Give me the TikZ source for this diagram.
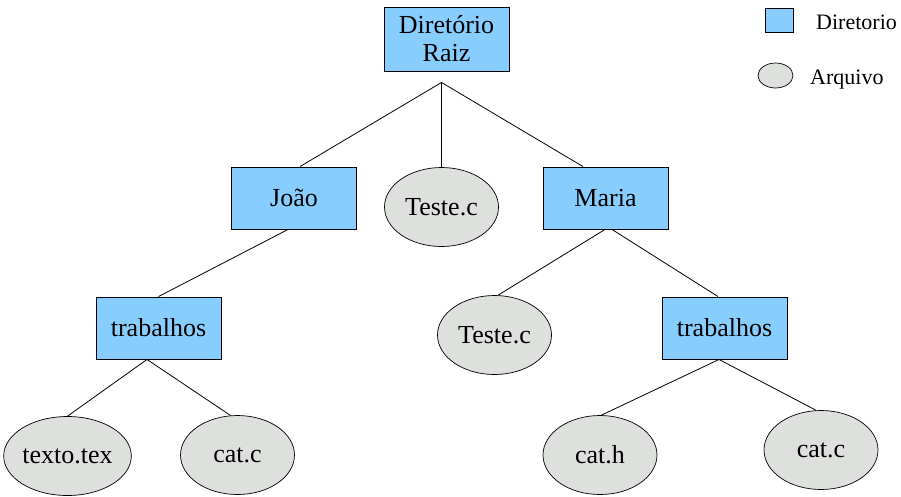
\documentclass[tikz,border=0pt]{standalone}
\usepackage{fontspec}
\setmainfont{Liberation Serif}
\usetikzlibrary{shapes.geometric,calc}
\definecolor{dirblue}{RGB}{135,206,255}
\definecolor{filegray}{RGB}{221,224,220}
\begin{document}
\begin{tikzpicture}[x=1pt,y=-1pt,
  dirbox/.style={draw=black, line width=0.9pt, fill=dirblue, rectangle,
    minimum width=125pt, minimum height=62pt, inner sep=0pt,
    font=\fontsize{26}{28}\selectfont},
  filenode/.style={draw=black, line width=0.7pt, fill=filegray, ellipse,
    minimum width=114pt, minimum height=79pt, inner sep=0pt,
    font=\fontsize{26}{28}\selectfont},
  legendtext/.style={inner sep=0pt, font=\fontsize{22}{24}\selectfont},
  link/.style={draw=black, line width=0.8pt}]
\useasboundingbox (0,0) rectangle (901,496);

% directories
\node[dirbox, minimum height=64pt, align=center] (raiz) at (446.5,39) {Diretório\\Raiz};
\node[dirbox] (joao)  at (294,198)   {João};
\node[dirbox] (maria) at (605.5,198) {Maria};
\node[dirbox] (trab1) at (158.5,328) {trabalhos};
\node[dirbox] (trab2) at (724.5,328) {trabalhos};

% files
\node[filenode] (teste1) at (441.5,207) {Teste.c};
\node[filenode] (teste2) at (494.5,335) {Teste.c};
\node[filenode] (texto)  at (67.5,456)  {texto.tex};
\node[filenode] (catc1)  at (237.5,455) {cat.c};
\node[filenode] (cath)   at (600,455)   {cat.h};
\node[filenode] (catc2)  at (821,450)   {cat.c};

% tree edges
\coordinate (jr) at ($(raiz.south)+(-5,11)$);
\draw[link] (jr) -- ($(joao.north)+(6,0)$);
\draw[link] (jr) -- (teste1.north);
\draw[link] (jr) -- ($(maria.north)+(-22.5,0)$);
\draw[link] ($(joao.south)+(-6,0)$) -- (trab1.north);
\draw[link] ($(trab1.south)+(-11.5,0)$) -- (texto.north);
\draw[link] ($(trab1.south)+(-11.5,0)$) -- (catc1.100);
\draw[link] ($(maria.south)+(-0.5,0)$) -- (teste2.85);
\draw[link] ($(maria.south)+(6.5,0)$) -- ($(trab2.north)+(-6.5,0)$);
\draw[link] ($(trab2.south)+(-5.5,0)$) -- (cath.88);
\draw[link] ($(trab2.south)+(-5.5,0)$) -- (catc2.97);

% legend
\node[draw=black, line width=0.8pt, fill=dirblue, minimum width=28pt,
  minimum height=24pt, inner sep=0pt] (legdir) at (779,20) {};
\node[legendtext, anchor=base west] (legdirtxt) at (816,29) {Diretorio};
\node[draw=black, line width=0.7pt, fill=filegray, ellipse, minimum width=35pt,
  minimum height=25pt, inner sep=0pt] (legfile) at (775.5,75.5) {};
\node[legendtext, anchor=base west] (legfiletxt) at (810,84) {Arquivo};
\end{tikzpicture}
\end{document}
